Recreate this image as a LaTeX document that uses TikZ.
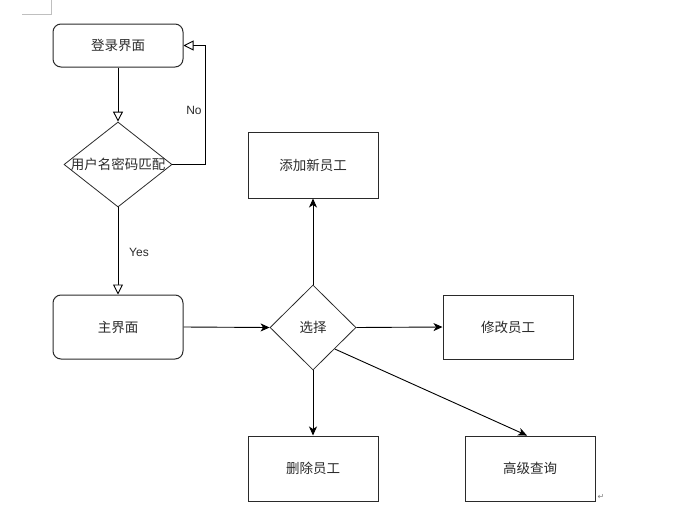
\documentclass[tikz,border=0pt]{standalone}
\usepackage{fontspec}
\setmainfont{Liberation Sans}
\newfontfamily\cjk{Noto Sans CJK SC}
\newfontfamily\dvs{DejaVu Sans}
\usetikzlibrary{shapes.geometric,arrows.meta}
\definecolor{ink}{HTML}{2A2A2A}
\begin{document}
\begin{tikzpicture}[x=1pt,y=-1pt,
  every node/.style={font=\cjk\fontsize{13.5}{15}\selectfont, text=ink},
  rbox/.style={draw=ink, line width=1pt, rounded corners=8pt, minimum width=130pt, minimum height=43pt, inner sep=0pt},
  sbox/.style={draw=ink, line width=1pt, minimum width=130pt, minimum height=65pt, inner sep=0pt},
  dia/.style={draw=ink, line width=0.8pt, diamond, inner sep=0pt},
  openarr/.style={draw=black, line width=0.9pt, -{Triangle[open,length=10pt,width=10pt,fill=white]}},
  fillarr/.style={draw=black, line width=0.9pt, -{Stealth[length=9pt,width=8pt,inset=2.5pt]}},
  lbl/.style={font=\fontsize{12}{14}\selectfont, text=ink}]
\useasboundingbox (0,0) rectangle (682,514);
% page corner mark
\draw[gray!50, line width=0.8pt] (22,14) -- (51,14) -- (51,0);
% nodes
\node[rbox] (login) at (118,45.5) {登录界面};
\node[dia, minimum width=108pt, minimum height=85pt] (chk) at (118,164.5) {};
\node at (chk.center) (chkt) {用户名密码匹配};
\node[rbox, minimum height=64pt] (main) at (118,327) {主界面};
\node[dia, minimum width=86pt, minimum height=85pt] (sel) at (313,327.5) {};
\node at (sel.center) (selt) {选择};
\node[sbox, minimum height=66pt] (add) at (313,165) {添加新员工};
\node[sbox, minimum height=64pt] (mod) at (508,327) {修改员工};
\node[sbox] (del) at (313,468.5) {删除员工};
\node[sbox] (adv) at (530,468.5) {高级查询};
% connectors
\draw[openarr] (login.south) -- (chk.north);
\draw[openarr] (chk.east) -- ([xshift=33pt]chk.east) |- (login.east);
\draw[openarr] (chk.south) -- (main.north);
\draw[fillarr] (main.east) -- (sel.west);
\draw[fillarr] (sel.north) -- (add.south);
\draw[fillarr] (sel.east) -- (mod.west);
\draw[fillarr] (sel.south) -- (del.north);
\draw[fillarr] (sel.south east) -- ([xshift=-3pt]adv.north);
% labels
\node[lbl] (no) at (194,110) {No};
\node[lbl] (yes) at (139,252) {Yes};
\node[font=\dvs\fontsize{8}{9}\selectfont, text=gray] (ret) at (601,497) {↵};
\end{tikzpicture}
\end{document}
